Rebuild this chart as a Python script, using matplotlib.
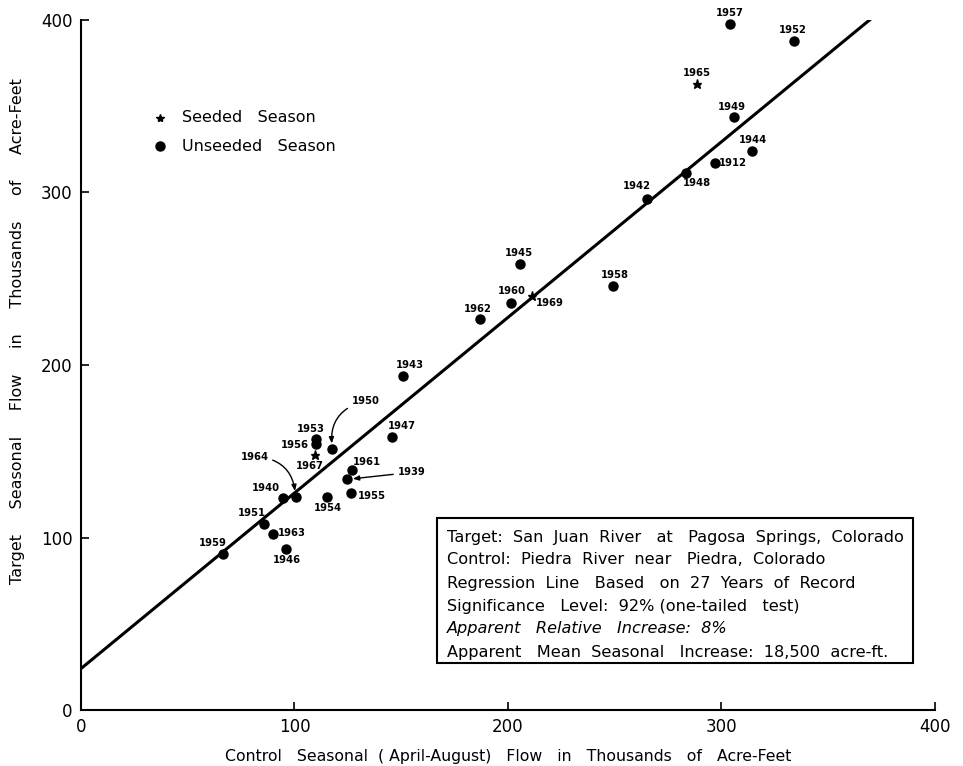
import matplotlib
matplotlib.use("Agg")
import matplotlib.pyplot as plt
import numpy as np
from matplotlib.patches import Rectangle

# Seasonal (April-August) flows, thousands of acre-feet
unseeded_years = ["1957", "1952", "1949", "1944", "1912", "1948", "1942", "1945",
                  "1960", "1962", "1958", "1943", "1947", "1950", "1953", "1956",
                  "1964", "1940", "1951", "1959", "1963", "1946", "1954", "1961",
                  "1939", "1955"]
unseeded_control = [303.8, 334.0, 305.7, 314.4, 297.0, 283.4, 265.0, 205.6,
                    201.3, 186.9, 249.3, 151.0, 145.8, 117.7, 110.0, 110.0,
                    100.5, 94.5, 85.7, 66.4, 90.0, 95.9, 115.4, 126.9,
                    124.7, 126.3]
unseeded_target = [397.7, 387.8, 343.6, 324.2, 317.0, 311.5, 296.0, 258.7,
                   236.1, 226.5, 245.8, 193.6, 158.0, 151.3, 157.0, 154.0,
                   123.7, 123.0, 107.8, 90.4, 101.8, 93.3, 123.3, 139.0,
                   133.7, 125.6]

seeded_years = ["1965", "1969", "1967"]
seeded_control = [288.5, 211.4, 109.6]
seeded_target = [363.0, 240.0, 148.0]

# regression of target on control, unseeded seasons
reg_intercept = 24.0
reg_slope = 1.018

info_lines = [
    "Target:  San  Juan  River   at   Pagosa  Springs,  Colorado",
    "Control:  Piedra  River  near   Piedra,  Colorado",
    "Regression  Line   Based   on  27  Years  of  Record",
    "Significance   Level:  92% (one-tailed   test)",
    "Apparent   Relative   Increase:  8%",
    "Apparent   Mean  Seasonal   Increase:  18,500  acre-ft.",
]

# label placement: offset of label centre from point, in pixels (dx, dy up)
label_offset = {
    "1957": (0, 11), "1952": (-1, 11), "1965": (0, 11), "1949": (-2, 10),
    "1944": (1, 11), "1912": (18, 0), "1948": (11, -10), "1942": (-10, 13),
    "1945": (-1, 11), "1960": (1, 12), "1969": (17, -7), "1962": (-2, 10),
    "1958": (2, 11), "1943": (6, 11), "1947": (10, 11), "1950": (33, 48),
    "1953": (-5, 10), "1956": (-21, -1), "1967": (-5, -11), "1964": (-41, 40),
    "1940": (-17, 10), "1951": (-12, 11), "1959": (-10, 11), "1963": (19, 1),
    "1946": (1, -11), "1954": (1, -11), "1961": (15, 8), "1939": (64, 7),
    "1955": (21, -3),
}
arrow_style = {
    "1950": "arc3,rad=0.45",
    "1964": "arc3,rad=-0.45",
    "1939": "arc3,rad=0.0",
}

plt.rcParams["font.family"] = "DejaVu Sans"

fig = plt.figure(figsize=(9.63, 7.66), dpi=100)
ax = fig.add_axes([0.0841, 0.0731, 0.8868, 0.9008])

xs = np.array([0.0, 400.0])
ax.plot(xs, reg_intercept + reg_slope * xs, color="black", lw=2.2, zorder=2)

ax.plot(unseeded_control, unseeded_target, "o", color="black", ms=6.5,
        zorder=3, clip_on=False)
ax.plot(seeded_control, seeded_target, "*", color="black", ms=6.5,
        zorder=3, clip_on=False)

years = unseeded_years + seeded_years
xs_all = unseeded_control + seeded_control
ys_all = unseeded_target + seeded_target
for yr, x, y in zip(years, xs_all, ys_all):
    dx, dy = label_offset[yr]
    kw = {}
    if yr in arrow_style:
        kw["arrowprops"] = dict(arrowstyle="-|>,head_length=0.5,head_width=0.2",
                                color="black", lw=1.0, shrinkA=1, shrinkB=4,
                                connectionstyle=arrow_style[yr])
    ax.annotate(yr, (x, y), xytext=(dx, dy), textcoords="offset pixels",
                ha="center", va="center", fontsize=7.2, fontweight="bold", **kw)

ax.set_xlim(0, 400)
ax.set_ylim(0, 400)
ax.set_xticks([0, 100, 200, 300, 400])
ax.set_yticks([0, 100, 200, 300, 400])
ax.tick_params(direction="in", length=6, width=1.2, labelsize=12, pad=6)
for side in ("top", "right"):
    ax.spines[side].set_visible(False)
for side in ("left", "bottom"):
    ax.spines[side].set_linewidth(1.5)

ax.set_xlabel("Control   Seasonal  ( April-August)   Flow   in   Thousands   of   Acre-Feet",
              fontsize=11.3, labelpad=9)
ax.set_ylabel("Target     Seasonal     Flow     in     Thousands     of     Acre-Feet",
              fontsize=11.5, labelpad=14)
ax.yaxis.set_label_coords(-0.066, 0.549)

# legend
ax.plot([0.0925], [0.858], "*", color="black", ms=6, transform=ax.transAxes)
ax.plot([0.0925], [0.817], "o", color="black", ms=6.5, transform=ax.transAxes)
ax.text(0.118, 0.858, "Seeded   Season", transform=ax.transAxes,
        fontsize=11.5, va="center")
ax.text(0.118, 0.817, "Unseeded   Season", transform=ax.transAxes,
        fontsize=11.5, va="center")

# info box
ax.add_patch(Rectangle((0.417, 0.068), 0.557, 0.210, transform=ax.transAxes,
                       fill=False, edgecolor="black", lw=1.5, clip_on=False))
line_y = [0.2507, 0.2174, 0.184, 0.1507, 0.1174, 0.084]
for i, (txt, ty) in enumerate(zip(info_lines, line_y)):
    ax.text(0.4286, ty, txt, transform=ax.transAxes, fontsize=11.6, va="center",
            style="italic" if i == 4 else "normal")

fig.savefig("out.png", dpi=100)
